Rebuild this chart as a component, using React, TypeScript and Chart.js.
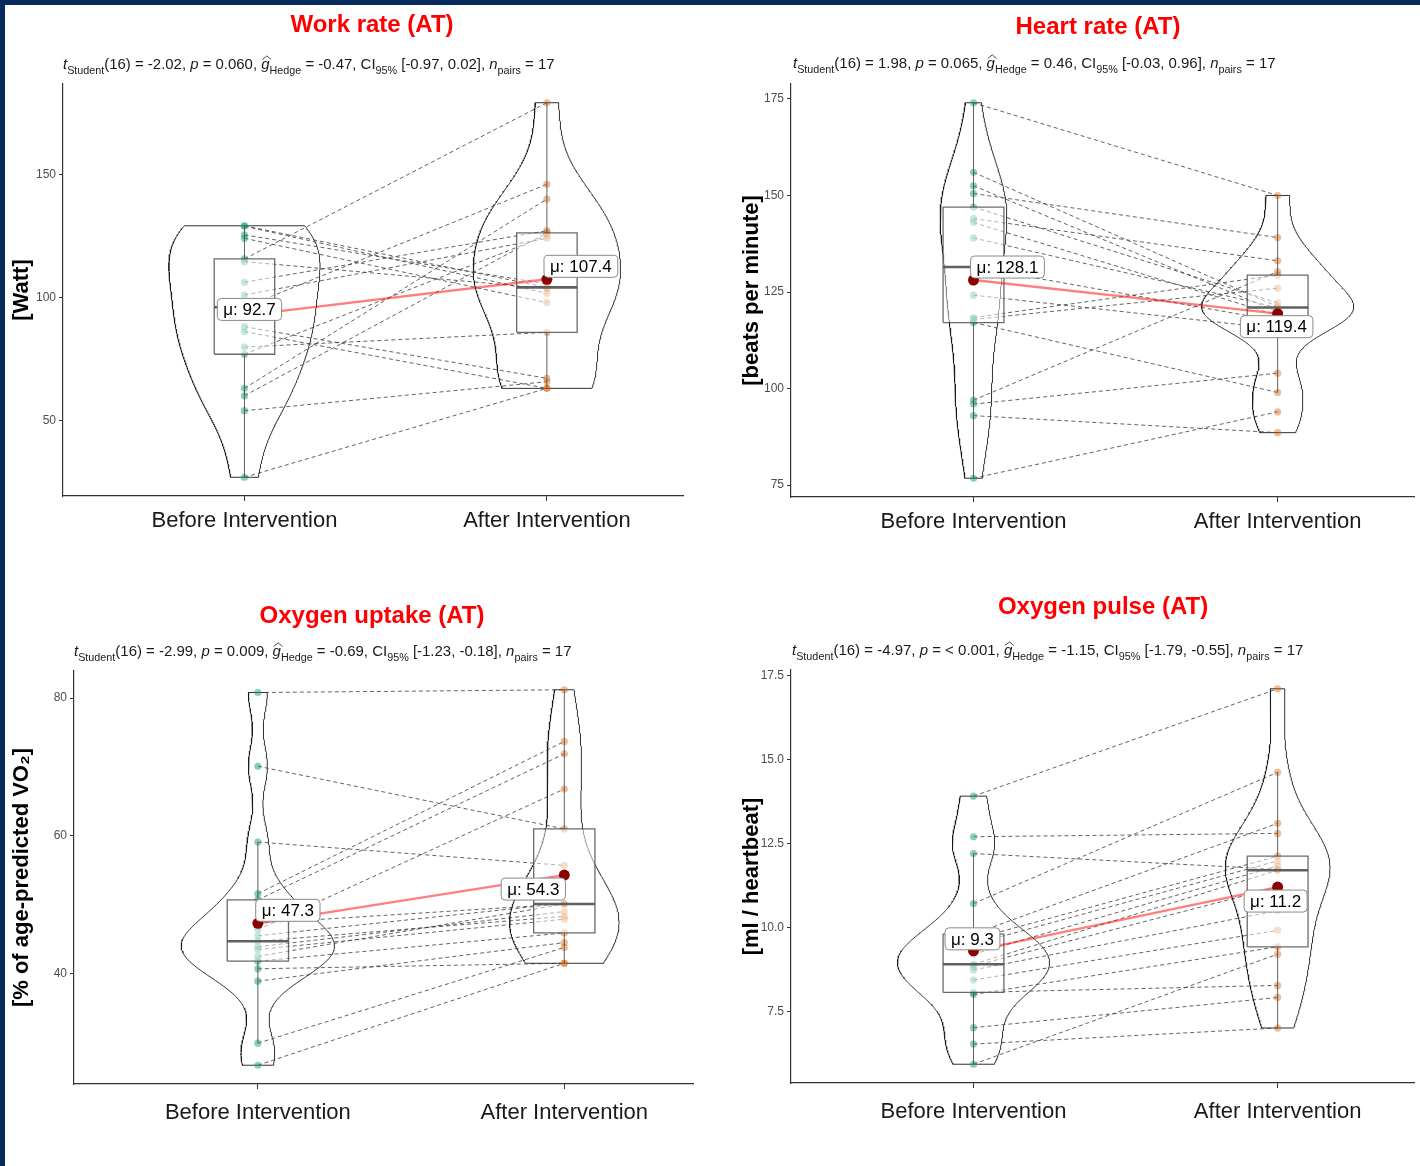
import React, { useEffect, useRef } from "react";
import { Chart, registerables } from "chart.js";

Chart.register(...registerables);

const FONT = '"Liberation Sans", Arial, Helvetica, sans-serif';
const NAVY = "#072b5e";

// ---------------- data ----------------
const categories = ["Before Intervention", "After Intervention"];

// paired values (same index = same subject)
const workRateBefore = [129.2, 129.0, 125.5, 124.1, 115.7, 114.6, 106.2, 101.0, 96.0, 88.1, 86.1, 79.8, 76.9, 63.0, 60.0, 53.9, 26.8];
const workRateAfter = [104.1, 101.7, 105.5, 97.9, 179.3, 103.7, 127.2, 124.1, 146.1, 67.1, 63.0, 85.8, 125.2, 140.1, 126.3, 65.7, 63.0];
const workRateTicks = [50, 100, 150];

const heartRateBefore = [174, 156, 152.5, 150.5, 147, 144, 143, 139, 131.5, 124.2, 118.4, 117.9, 117.1, 97, 96, 93, 76.8];
const heartRateAfter = [150, 121.2, 119.9, 139.1, 122.2, 133.1, 119, 121, 117.5, 115.5, 129.4, 126, 99, 130.3, 104, 88.6, 94];
const heartRateTicks = [75, 100, 125, 150, 175];

const vo2Before = [80.8, 70.1, 59.1, 51.6, 50.7, 47.3, 46.4, 45.5, 44.7, 43.9, 43.5, 42.5, 41.8, 40.7, 38.9, 29.9, 26.7];
const vo2After = [81.2, 61.0, 55.7, 73.7, 71.9, 50.1, 66.8, 50.2, 48.3, 49.0, 47.9, 50.1, 45.9, 41.5, 44.5, 43.8, 41.5];
const vo2Ticks = [40, 60, 80];

const o2PulseBefore = [13.91, 12.7, 12.2, 10.71, 9.8, 9.65, 9.5, 9.2, 8.9, 8.85, 8.73, 8.43, 8.06, 8.0, 7.01, 6.52, 5.92];
const o2PulseAfter = [17.11, 12.8, 11.73, 14.62, 13.1, 12.12, 11.98, 11.83, 11.7, 11.2, 10.5, 9.91, 8.27, 9.42, 7.91, 7.0, 9.2];
const o2PulseTicks = [7.5, 10, 12.5, 15, 17.5];

const panelTitles = ["Work rate (AT)", "Heart rate (AT)", "Oxygen uptake (AT)", "Oxygen pulse (AT)"];
const yAxisTitles = ["[Watt]", "[beats per minute]", "[% of age-predicted VO\u2082]", "[ml / heartbeat]"];
const tValues = ["-2.02", "1.98", "-2.99", "-4.97"];
const pValues = ["0.060", "0.065", "0.009", "< 0.001"];
const gValues = ["-0.47", "0.46", "-0.69", "-1.15"];
const ciLows = ["-0.97", "-0.03", "-1.23", "-1.79"];
const ciHighs = ["0.02", "0.96", "-0.18", "-0.55"];
const degreesOfFreedom = 16;

const beforeSets = [workRateBefore, heartRateBefore, vo2Before, o2PulseBefore];
const afterSets = [workRateAfter, heartRateAfter, vo2After, o2PulseAfter];
const tickSets = [workRateTicks, heartRateTicks, vo2Ticks, o2PulseTicks];
const tickDecimals = [0, 0, 0, 1];

// ---------------- layout (pixels, not data) ----------------
const CW = 710;
const CH = 583;
const XH = 60;
const layouts = [
  { left: 0, top: 0, area: { l: 63, t: 84, r: 683, b: 496 }, xMax: 2.45, xPad: 7, titleX: 372, titleY: 25, subX: 63, subY: 64, subW: 492, yTitleX: 22, labelOffsets: [[5, -6], [34, -13]] },
  { left: 710, top: 0, area: { l: 81, t: 84, r: 706, b: 497 }, xMax: 2.45, xPad: 7, titleX: 388, titleY: 27, subX: 83, subY: 63, subW: 483, yTitleX: 42, labelOffsets: [[34, -13], [-1, 13]] },
  { left: 0, top: 583, area: { l: 74, t: 88, r: 693, b: 501 }, xMax: 2.42, xPad: 11, titleX: 372, titleY: 33, subX: 74, subY: 68, subW: 498, yTitleX: 22, labelOffsets: [[30, -13], [-31, 14]] },
  { left: 710, top: 583, area: { l: 81, t: 87, r: 706, b: 500 }, xMax: 2.45, xPad: 11, titleX: 393, titleY: 24, subX: 82, subY: 67, subW: 512, yTitleX: 42, labelOffsets: [[-1, -12], [-2, 14]] },
];

// ---------------- stats helpers ----------------
const mean = (a: number[]) => a.reduce((s, v) => s + v, 0) / a.length;
const sd = (a: number[]) => {
  const m = mean(a);
  return Math.sqrt(a.reduce((s, v) => s + (v - m) * (v - m), 0) / (a.length - 1));
};
const q7 = (sorted: number[], p: number) => {
  const h = (sorted.length - 1) * p;
  const lo = Math.floor(h);
  const hi = Math.min(lo + 1, sorted.length - 1);
  return sorted[lo] + (h - lo) * (sorted[hi] - sorted[lo]);
};
const bwNrd0 = (a: number[]) => {
  const s = [...a].sort((x, y) => x - y);
  const iqr = q7(s, 0.75) - q7(s, 0.25);
  const lo = Math.min(sd(a), iqr / 1.34) || sd(a);
  return 0.9 * lo * Math.pow(a.length, -0.2);
};
const kde = (a: number[], h: number, y: number) => {
  let s = 0;
  for (const v of a) {
    const u = (y - v) / h;
    s += Math.exp(-0.5 * u * u);
  }
  return s / (a.length * h * Math.sqrt(2 * Math.PI));
};

function boxStats(a: number[]) {
  const s = [...a].sort((x, y) => x - y);
  const q1 = q7(s, 0.25);
  const med = q7(s, 0.5);
  const q3 = q7(s, 0.75);
  const iqr = q3 - q1;
  const lo = s.filter((v) => v >= q1 - 1.5 * iqr)[0];
  const hiArr = s.filter((v) => v <= q3 + 1.5 * iqr);
  const hi = hiArr[hiArr.length - 1];
  return { q1, med, q3, lo, hi };
}

function violinPolys(groups: number[][]) {
  const N = 256;
  const dens = groups.map((g) => {
    const h = bwNrd0(g);
    const mn = Math.min(...g);
    const mx = Math.max(...g);
    const ys: number[] = [];
    const ds: number[] = [];
    for (let i = 0; i < N; i++) {
      const y = mn + ((mx - mn) * i) / (N - 1);
      ys.push(y);
      ds.push(kde(g, h, y));
    }
    return { ys, ds };
  });
  const maxD = Math.max(...dens.flatMap((d) => d.ds));
  return dens.map((d, gi) => {
    const c = gi + 1;
    const pts: { x: number; y: number }[] = [];
    for (let i = 0; i < N; i++) pts.push({ x: c + (0.25 * d.ds[i]) / maxD, y: d.ys[i] });
    for (let i = N - 1; i >= 0; i--) pts.push({ x: c - (0.25 * d.ds[i]) / maxD, y: d.ys[i] });
    pts.push(pts[0]);
    return pts;
  });
}

// ---------------- drawing helpers ----------------
type Seg = { t: string; s: "n" | "i" | "sub" | "hat" };

function subtitleSegs(i: number): Seg[] {
  return [
    { t: "t", s: "i" },
    { t: "Student", s: "sub" },
    { t: `(${degreesOfFreedom}) = ${tValues[i]}, `, s: "n" },
    { t: "p", s: "i" },
    { t: ` = ${pValues[i]}, `, s: "n" },
    { t: "g", s: "hat" },
    { t: "Hedge", s: "sub" },
    { t: ` = ${gValues[i]}, CI`, s: "n" },
    { t: "95%", s: "sub" },
    { t: ` [${ciLows[i]}, ${ciHighs[i]}], `, s: "n" },
    { t: "n", s: "i" },
    { t: "pairs", s: "sub" },
    { t: ` = ${beforeSets[i].length}`, s: "n" },
  ];
}

function segFont(s: Seg, size: number) {
  if (s.s === "i" || s.s === "hat") return `italic ${size}px ${FONT}`;
  if (s.s === "sub") return `${(size * 0.72).toFixed(2)}px ${FONT}`;
  return `${size}px ${FONT}`;
}

function drawSubtitle(ctx: CanvasRenderingContext2D, segs: Seg[], x: number, yc: number, targetW: number) {
  const measure = (size: number) => {
    let w = 0;
    for (const s of segs) {
      ctx.font = segFont(s, size);
      w += ctx.measureText(s.t).width;
    }
    return w;
  };
  const size = (14 * targetW) / measure(14);
  const baseline = yc + size * 0.36;
  let cx = x;
  ctx.fillStyle = "#1a1a1a";
  ctx.strokeStyle = "#1a1a1a";
  ctx.textAlign = "left";
  ctx.textBaseline = "alphabetic";
  for (const s of segs) {
    ctx.font = segFont(s, size);
    const w = ctx.measureText(s.t).width;
    const yy = s.s === "sub" ? baseline + size * 0.28 : baseline;
    ctx.fillText(s.t, cx, yy);
    if (s.s === "hat") {
      ctx.beginPath();
      ctx.lineWidth = 0.8;
      ctx.moveTo(cx + 1, baseline - size * 0.66);
      ctx.lineTo(cx + w / 2 + 1.5, baseline - size * 0.9);
      ctx.lineTo(cx + w + 1.5, baseline - size * 0.66);
      ctx.stroke();
    }
    cx += w;
  }
}

function roundRectPath(ctx: CanvasRenderingContext2D, x: number, y: number, w: number, h: number, r: number) {
  ctx.beginPath();
  ctx.moveTo(x + r, y);
  ctx.lineTo(x + w - r, y);
  ctx.quadraticCurveTo(x + w, y, x + w, y + r);
  ctx.lineTo(x + w, y + h - r);
  ctx.quadraticCurveTo(x + w, y + h, x + w - r, y + h);
  ctx.lineTo(x + r, y + h);
  ctx.quadraticCurveTo(x, y + h, x, y + h - r);
  ctx.lineTo(x, y + r);
  ctx.quadraticCurveTo(x, y, x + r, y);
  ctx.closePath();
}

function buildConfig(i: number): any {
  const L = layouts[i];
  const before = beforeSets[i];
  const after = afterSets[i];
  const groups = [before, after];
  const all = [...before, ...after];
  const dmin = Math.min(...all);
  const dmax = Math.max(...all);
  const pad = (dmax - dmin) * 0.05;
  const means = groups.map(mean);
  const violins = violinPolys(groups);
  const stats = groups.map(boxStats);
  const BW = 0.1;

  const datasets: any[] = [];
  const colors = ["rgba(27,158,119,0.5)", "rgba(217,95,2,0.42)"];

  violins.forEach((poly) =>
    datasets.push({
      data: poly,
      showLine: true,
      pointRadius: 0,
      borderColor: "#1a1a1a",
      borderWidth: 0.9,
      backgroundColor: "rgba(255,255,255,0.2)",
      fill: "shape",
      order: 60,
    })
  );

  before.forEach((b, k) =>
    datasets.push({
      data: [
        { x: 1, y: b },
        { x: 2, y: after[k] },
      ],
      showLine: true,
      pointRadius: 0,
      borderColor: "rgba(60,60,60,0.8)",
      borderWidth: 1,
      borderDash: [4, 3],
      fill: false,
      order: 50,
    })
  );

  groups.forEach((g, gi) =>
    datasets.push({
      data: g.map((v) => ({ x: gi + 1, y: v })),
      showLine: false,
      pointRadius: 3.6,
      pointBorderWidth: 0,
      pointBackgroundColor: colors[gi],
      backgroundColor: colors[gi],
      order: 40,
    })
  );

  stats.forEach((st, gi) => {
    const c = gi + 1;
    datasets.push({
      data: [
        { x: c, y: st.lo },
        { x: c, y: st.q1 },
        { x: c, y: null },
        { x: c, y: st.q3 },
        { x: c, y: st.hi },
      ],
      showLine: true,
      spanGaps: false,
      pointRadius: 0,
      borderColor: "rgba(70,70,70,0.85)",
      borderWidth: 1,
      fill: false,
      order: 35,
    });
    datasets.push({
      data: [
        { x: c - BW, y: st.q1 },
        { x: c + BW, y: st.q1 },
        { x: c + BW, y: st.q3 },
        { x: c - BW, y: st.q3 },
        { x: c - BW, y: st.q1 },
      ],
      showLine: true,
      pointRadius: 0,
      borderColor: "rgba(80,80,80,0.85)",
      borderWidth: 1.3,
      backgroundColor: "rgba(255,255,255,0.5)",
      fill: "shape",
      order: 30,
    });
    datasets.push({
      data: [
        { x: c - BW, y: st.med },
        { x: c + BW, y: st.med },
      ],
      showLine: true,
      pointRadius: 0,
      borderColor: "rgba(80,80,80,0.9)",
      borderWidth: 2.6,
      fill: false,
      order: 25,
    });
  });

  datasets.push({
    data: means.map((m, gi) => ({ x: gi + 1, y: m })),
    showLine: true,
    pointRadius: 0,
    borderColor: "rgba(255,0,0,0.5)",
    borderWidth: 2.4,
    fill: false,
    order: 10,
  });
  datasets.push({
    data: means.map((m, gi) => ({ x: gi + 1, y: m })),
    showLine: false,
    pointRadius: 5.5,
    pointBorderWidth: 0,
    pointBackgroundColor: "#8b0000",
    backgroundColor: "#8b0000",
    order: 5,
  });

  const decorations = {
    id: "decorations" + i,
    afterDatasetsDraw(chart: any) {
      const ctx = chart.ctx as CanvasRenderingContext2D;
      const xs = chart.scales.x;
      const ys = chart.scales.y;
      ctx.save();
      means.forEach((m, gi) => {
        const px = xs.getPixelForValue(gi + 1) + L.labelOffsets[gi][0];
        const py = ys.getPixelForValue(m) + L.labelOffsets[gi][1];
        const text = `\u03bc: ${m.toFixed(1)}`;
        ctx.font = `17px ${FONT}`;
        const tw = ctx.measureText(text).width;
        const w = tw + 12;
        const h = 22;
        roundRectPath(ctx, px - w / 2, py - h / 2, w, h, 4);
        ctx.fillStyle = "#ffffff";
        ctx.fill();
        ctx.lineWidth = 1;
        ctx.strokeStyle = "#8a8a8a";
        ctx.stroke();
        ctx.fillStyle = "#000000";
        ctx.textAlign = "center";
        ctx.textBaseline = "middle";
        ctx.fillText(text, px, py + 1);
      });
      ctx.restore();
    },
    afterDraw(chart: any) {
      const ctx = chart.ctx as CanvasRenderingContext2D;
      ctx.save();
      ctx.font = `bold 24px ${FONT}`;
      ctx.fillStyle = "#ff0000";
      ctx.textAlign = "center";
      ctx.textBaseline = "middle";
      ctx.fillText(panelTitles[i], L.titleX, L.titleY);
      drawSubtitle(ctx, subtitleSegs(i), L.subX, L.subY, L.subW);
      ctx.restore();
    },
  };

  const tickArr = tickSets[i];
  const dec = tickDecimals[i];

  return {
    type: "scatter",
    data: { datasets },
    plugins: [decorations],
    options: {
      responsive: false,
      animation: false,
      events: [],
      layout: {
        padding: { left: 0, top: L.area.t, right: CW - L.area.r, bottom: CH - L.area.b - XH },
      },
      plugins: {
        legend: { display: false },
        tooltip: { enabled: false },
        title: { display: false },
      },
      scales: {
        x: {
          type: "linear",
          position: "bottom",
          min: 0.4,
          max: L.xMax,
          afterBuildTicks: (s: any) => {
            s.ticks = [{ value: 1 }, { value: 2 }];
          },
          afterFit: (s: any) => {
            s.height = XH;
          },
          ticks: {
            callback: (v: any) => categories[Math.round(Number(v)) - 1] ?? "",
            font: { family: FONT, size: 22 },
            color: "#1a1a1a",
            padding: L.xPad,
            autoSkip: false,
            maxRotation: 0,
            minRotation: 0,
          },
          grid: { display: true, drawOnChartArea: false, drawTicks: true, tickLength: 5, color: "#333333", lineWidth: 1 },
          border: { display: true, color: "#333333", width: 1.2 },
        },
        y: {
          type: "linear",
          position: "left",
          min: dmin - pad,
          max: dmax + pad,
          afterBuildTicks: (s: any) => {
            s.ticks = tickArr.map((v) => ({ value: v }));
          },
          afterFit: (s: any) => {
            s.width = L.area.l;
          },
          ticks: {
            callback: (v: any) => (dec ? Number(v).toFixed(dec) : String(v)),
            font: { family: FONT, size: 12 },
            color: "#4d4d4d",
            padding: 3,
            autoSkip: false,
          },
          grid: { display: true, drawOnChartArea: false, drawTicks: true, tickLength: 4, color: "#333333", lineWidth: 1 },
          border: { display: true, color: "#333333", width: 1.2 },
          title: {
            display: true,
            text: yAxisTitles[i],
            font: { family: FONT, size: 22, weight: "bold" },
            color: "#000000",
            padding: { top: L.yTitleX - 13.2, bottom: 0 },
          },
        },
      },
    },
  };
}

function Panel({ index }: { index: number }) {
  const ref = useRef<HTMLCanvasElement | null>(null);
  useEffect(() => {
    if (!ref.current) return;
    const chart = new Chart(ref.current, buildConfig(index));
    return () => chart.destroy();
  }, [index]);
  const L = layouts[index];
  return (
    <canvas
      ref={ref}
      width={CW}
      height={CH}
      style={{ position: "absolute", left: L.left, top: L.top, width: CW, height: CH }}
    />
  );
}

export default function App() {
  useEffect(() => {
    document.body.style.margin = "0";
  }, []);
  return (
    <div style={{ position: "absolute", left: 0, top: 0, width: 1420, height: 1166, background: "#ffffff", overflow: "hidden" }}>
      {[0, 1, 2, 3].map((i) => (
        <Panel key={i} index={i} />
      ))}
      <div style={{ position: "absolute", left: 0, top: 0, width: 1420, height: 5, background: NAVY }} />
      <div style={{ position: "absolute", left: 0, top: 0, width: 5, height: 1166, background: NAVY }} />
    </div>
  );
}
